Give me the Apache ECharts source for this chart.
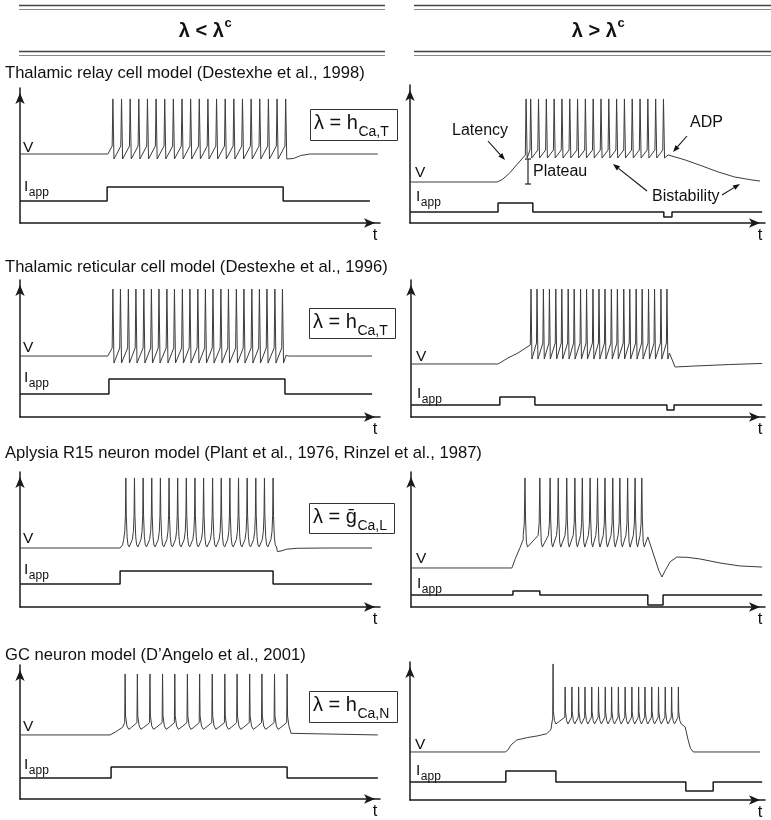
<!DOCTYPE html>
<html><head><meta charset="utf-8">
<script src="https://cdn.jsdelivr.net/npm/echarts@6/dist/echarts.min.js"></script>
<style>html,body{margin:0;padding:0;background:#fff}#c{width:771px;height:820px}</style>
</head><body><div id="c"></div>
<script>
// ================= DATA (arbitrary units: t 0-100, level 0-100) =================
const columnHeaders = ['λ < λ', 'λ > λ'];
const columnHeaderSup = ['c', 'c'];
const modelTitles = [
  'Thalamic relay cell model (Destexhe et al., 1998)',
  'Thalamic reticular cell model (Destexhe et al., 1996)',
  'Aplysia R15 neuron model (Plant et al., 1976, Rinzel et al., 1987)',
  'GC neuron model (D\u2019Angelo et al., 2001)'
];
const lambdaMain = ['λ = h', 'λ = h', 'λ = \u1E21', 'λ = h'];
const lambdaSub = ['Ca,T', 'Ca,T', 'Ca,L', 'Ca,N'];
const annotations = ['Latency', 'Plateau', 'ADP', 'Bistability'];

// --- Thalamic relay, lambda < lambda_c ---
const relayLoPre = [[0, 51.1], [24.4, 51.1]];
const relayLoSpikes = [25.8, 28.2, 30.6, 33.0, 35.4, 37.8, 40.2, 42.6, 45.0, 47.4, 49.8, 52.2, 54.6, 57.0, 59.4, 61.8, 64.2, 66.6, 69.0, 71.4, 73.8];
const relayLoPeak = 91.9;
const relayLoShape = { before: [[-0.2, 57]], after: [[0.3, 47.4]] };
const relayLoPost = [[76, 47.8], [78, 50], [80.5, 51.1], [99.4, 51.1]];
const relayLoIapp = [[0, 16.3], [24.2, 16.3], [24.2, 26.7], [73.1, 26.7], [73.1, 16.3], [97.2, 16.3]];

// --- Thalamic relay, lambda > lambda_c ---
const relayHiPre = [[0, 29.7], [24.5, 29.7], [26, 31.5], [28, 36], [30, 42], [32.5, 49.3]];
const relayHiSpikes = [32.7, 34.0, 36.2, 38.4, 40.6, 42.8, 45.0, 47.2, 49.4, 51.6, 53.8, 56.0, 58.2, 60.4, 62.6, 64.8, 67.0, 69.2, 71.4];
const relayHiPeak = 89.9;
const relayHiShape = { before: [[-0.2, 52.9]], after: [[0.3, 47.1]] };
const relayHiPost = [[72.7, 49.3], [77.5, 45.7], [82.3, 41.3], [86.8, 37], [91.5, 33.3], [96.3, 31.2], [98.6, 30.4]];
const relayHiIapp = [[0, 8], [24.8, 8], [24.8, 14.5], [34.6, 14.5], [34.6, 8], [71.5, 8], [71.5, 4.3], [73.8, 4.3], [73.8, 8], [99.2, 8]];

// --- Thalamic reticular, lambda < lambda_c ---
const reticLoPre = [[0, 44.5], [24.4, 44.5]];
const reticLoSpikes = [25.8, 27.9, 30.1, 32.2, 34.4, 36.5, 38.6, 40.8, 42.9, 45.1, 47.2, 49.4, 51.5, 53.6, 55.8, 57.9, 60.1, 62.2, 64.4, 66.5, 68.6, 70.8, 72.9];
const reticLoPeak = 93.4;
const reticLoShape = { before: [[-0.2, 50.4]], after: [[0.3, 39.4]] };
const reticLoPost = [[73.9, 45], [74.5, 44.5], [97.8, 44.5]];
const reticLoIapp = [[0, 16.8], [24.7, 16.8], [24.7, 27.7], [73.6, 27.7], [73.6, 16.8], [97.8, 16.8]];

// --- Thalamic reticular, lambda > lambda_c ---
const reticHiPre = [[0, 38.7], [24.6, 38.7], [27.4, 43.1], [30.2, 46.7], [33.7, 52.6]];
const reticHiSpikes = [33.9, 35.6, 37.4, 39.1, 40.9, 42.6, 44.4, 46.1, 47.9, 49.6, 51.4, 53.1, 54.8, 56.6, 58.3, 60.1, 61.8, 63.6, 65.3, 67.1, 68.8, 70.6, 72.3];
const reticHiPeak = 93.4;
const reticHiShape = { before: [[-0.15, 54]], after: [[0.25, 42.3]] };
const reticHiPost = [[73.0, 46.7], [74.6, 36.5], [80, 37.2], [90, 38.3], [99.2, 39.1]];
const reticHiIapp = [[0, 8.8], [25.1, 8.8], [25.1, 14.6], [35, 14.6], [35, 8.8], [72.3, 8.8], [72.3, 5.1], [74.3, 5.1], [74.3, 8.8], [99.2, 8.8]];

// --- Aplysia R15, lambda < lambda_c ---
const r15LoPre = [[0, 43.7], [27.8, 43.7], [28.5, 46]];
const r15LoSpikes = [29.4, 31.8, 34.2, 36.6, 39.0, 41.4, 43.8, 46.2, 48.6, 51.0, 53.5, 55.9, 58.3, 60.7, 63.1, 65.5, 67.9, 70.3];
const r15LoPeak = 95.6;
const r15LoShape = { before: [[-0.6, 50], [-0.3, 56], [-0.12, 68]], after: [[0.12, 68], [0.35, 52], [0.6, 46], [0.95, 44.5]] };
const r15LoPost = [[71.5, 41], [72.5, 41.5], [74, 42.8], [77, 43.5], [85, 43.7], [97.8, 43.7]];
const r15LoIapp = [[0, 17], [27.8, 17], [27.8, 26.7], [70.3, 26.7], [70.3, 17], [97.8, 17]];

// --- Aplysia R15, lambda > lambda_c ---
const r15HiPre = [[0, 28.9], [28.5, 28.9], [29.5, 36], [30.8, 44], [31.7, 50]];
const r15HiSpikes = [32.2, 36.4, 39.3, 41.6, 44.0, 46.3, 48.4, 50.6, 52.7, 54.8, 57.0, 59.0, 61.2, 63.3, 65.2];
const r15HiPeak = 95.6;
const r15HiShape = { before: [[-0.5, 53], [-0.2, 62]], after: [[0.15, 66], [0.4, 48], [0.7, 44.4]] };
const r15HiPost = [[66.9, 51.9], [70.0, 27], [70.9, 22.2], [71.8, 27], [73.2, 33.5], [75.1, 37], [78, 36.8], [81.6, 35.6], [87.3, 32.6], [92.9, 30.4], [99.2, 29.6]];
const r15HiIapp = [[0, 8.9], [28.8, 8.9], [28.8, 11.9], [36.4, 11.9], [36.4, 8.9], [66.9, 8.9], [66.9, 1.5], [71.2, 1.5], [71.2, 8.9], [99.2, 8.9]];

// --- GC neuron, lambda < lambda_c ---
const gcLoPre = [[0, 47.8], [25, 47.8], [26.5, 50], [28.5, 53.5]];
const gcLoSpikes = [29.2, 32.6, 36.1, 39.6, 43.0, 46.5, 49.9, 53.4, 56.9, 60.3, 63.8, 67.2, 70.7, 74.2];
const gcLoPeak = 93.3;
const gcLoShape = { before: [[-0.12, 57]], after: [[0.12, 62], [0.5, 54.5], [1.0, 52], [1.8, 53.5]] };
const gcLoPost = [[74.8, 55], [75.3, 49], [75.8, 47.8], [99.4, 47.8]];
const gcLoIapp = [[0, 15.7], [25.3, 15.7], [25.3, 23.9], [74.2, 23.9], [74.2, 15.7], [99.4, 15.7]];

// --- GC neuron, lambda > lambda_c ---
const gcHiPre = [[0, 34.8], [26.8, 34.8], [27.5, 36], [28.5, 40], [30.1, 43.5], [33, 45.2], [36, 46.5], [38.5, 48], [39.7, 51], [40.1, 58]];
const gcHiSpikes = [40.3, 43.7, 45.6, 47.5, 49.3, 51.2, 53.1, 55.0, 56.8, 58.7, 60.6, 62.5, 64.4, 66.2, 68.1, 70.0, 71.9, 73.7, 75.6];
const gcHiPeaks = [98.6, 81.9, 81.9, 81.9, 81.9, 81.9, 81.9, 81.9, 81.9, 81.9, 81.9, 81.9, 81.9, 81.9, 81.9, 81.9, 81.9, 81.9, 81.9];
const gcHiShape = { before: [[-0.1, 60]], after: [[0.1, 64], [0.4, 57.5], [0.8, 55.1], [1.2, 55.5]] };
const gcHiPost = [[76.6, 55.8], [77.5, 53], [78.3, 44], [79, 37.5], [79.8, 34.8], [98.6, 34.8]];
const gcHiIapp = [[0, 13], [27, 13], [27, 21], [41.1, 21], [41.1, 13], [77.7, 13], [77.7, 6.5], [85.4, 6.5], [85.4, 13], [99.2, 13]];

// ================= BUILD =================
function buildV(pre, spikes, peaks, shape, post) {
  const out = pre.slice();
  spikes.forEach((ts, i) => {
    const pk = Array.isArray(peaks) ? peaks[i] : peaks;
    shape.before.forEach(([dt, v]) => out.push([ts + dt, v]));
    out.push([ts, pk]);
    const last = i === spikes.length - 1;
    shape.after.forEach(([dt, v]) => { if (!last || ts + dt < post[0][0]) out.push([ts + dt, v]); });
  });
  return out.concat(post);
}

const traces = [
  { v: buildV(relayLoPre, relayLoSpikes, relayLoPeak, relayLoShape, relayLoPost), i: relayLoIapp },
  { v: buildV(relayHiPre, relayHiSpikes, relayHiPeak, relayHiShape, relayHiPost), i: relayHiIapp },
  { v: buildV(reticLoPre, reticLoSpikes, reticLoPeak, reticLoShape, reticLoPost), i: reticLoIapp },
  { v: buildV(reticHiPre, reticHiSpikes, reticHiPeak, reticHiShape, reticHiPost), i: reticHiIapp },
  { v: buildV(r15LoPre, r15LoSpikes, r15LoPeak, r15LoShape, r15LoPost), i: r15LoIapp },
  { v: buildV(r15HiPre, r15HiSpikes, r15HiPeak, r15HiShape, r15HiPost), i: r15HiIapp },
  { v: buildV(gcLoPre, gcLoSpikes, gcLoPeak, gcLoShape, gcLoPost), i: gcLoIapp },
  { v: buildV(gcHiPre, gcHiSpikes, gcHiPeaks, gcHiShape, gcHiPost), i: gcHiIapp }
];

// ================= LAYOUT (pixels) =================
const panels = [
  { l: 20, t: 88, r: 380, b: 223, vy: 148, iy: 187 },
  { l: 410, t: 85, r: 765, b: 223, vy: 173, iy: 197 },
  { l: 20, t: 280, r: 380, b: 417, vy: 348, iy: 378 },
  { l: 411, t: 280, r: 765, b: 417, vy: 357, iy: 394 },
  { l: 20, t: 472, r: 380, b: 607, vy: 539, iy: 570 },
  { l: 411, t: 472, r: 765, b: 607, vy: 559, iy: 584 },
  { l: 20, t: 665, r: 380, b: 799, vy: 727, iy: 765 },
  { l: 410, t: 662, r: 765, b: 800, vy: 745, iy: 771 }
];
const titleY = [73, 267, 453, 655];
const boxes = [
  { x: 310, y: 109, w: 87, h: 31 },
  { x: 309, y: 308, w: 86, h: 30 },
  { x: 309, y: 503, w: 85, h: 30 },
  { x: 309, y: 691, w: 88, h: 31 }
];

const FONT = '"Liberation Sans", Arial, Helvetica, sans-serif';
const mctx = document.createElement('canvas').getContext('2d');
function tw(str, size, weight) { mctx.font = (weight || 'normal') + ' ' + size + 'px ' + FONT; return mctx.measureText(str).width; }
function txt(x, y, str, size, align, weight) {
  return { type: 'text', x: x, y: y, silent: true,
    style: { text: str, fill: '#111', font: (weight || 'normal') + ' ' + size + 'px ' + FONT,
      align: align || 'left', verticalAlign: 'middle',
      textAlign: align || 'left', textVerticalAlign: 'middle' } };
}
function seg(x1, y1, x2, y2, color, w) {
  return { type: 'line', silent: true, shape: { x1, y1, x2, y2 }, style: { stroke: color || '#111', lineWidth: w || 1 } };
}
function arrow(x1, y1, x2, y2) {
  const dx = x2 - x1, dy = y2 - y1, L = Math.hypot(dx, dy), ux = dx / L, uy = dy / L;
  const hl = 7, hw = 2.6;
  const bx = x2 - ux * hl, by = y2 - uy * hl;
  return [
    seg(x1, y1, bx, by, '#111', 1.1),
    { type: 'polygon', silent: true, shape: { points: [[x2, y2], [bx - uy * hw, by + ux * hw], [bx + uy * hw, by - ux * hw]] }, style: { fill: '#111' } }
  ];
}

const graphics = [];
// Column headers
const hdr = [{ x1: 19, x2: 385, cx: 205 }, { x1: 414, x2: 771, cx: 598 }];
hdr.forEach((h, k) => {
  graphics.push(seg(h.x1, 5.5, h.x2, 5.5, '#444', 1.4));
  graphics.push(seg(h.x1, 9.5, h.x2, 9.5, '#888', 1.2));
  graphics.push(seg(h.x1, 51.5, h.x2, 51.5, '#444', 1.4));
  graphics.push(seg(h.x1, 55.5, h.x2, 55.5, '#888', 1.2));
  const mw = tw(columnHeaders[k], 20, 'bold'), sw = tw(columnHeaderSup[k], 13, 'bold');
  const x0 = h.cx - (mw + sw) / 2;
  graphics.push(txt(x0, 31, columnHeaders[k], 20, 'left', 'bold'));
  graphics.push(txt(x0 + mw + 0.5, 23, columnHeaderSup[k], 13, 'left', 'bold'));
});
// Titles
titleY.forEach((y, k) => graphics.push(txt(5, y, modelTitles[k], 16.6)));
// Lambda boxes
boxes.forEach((b, k) => {
  graphics.push({ type: 'rect', silent: true, shape: { x: b.x + 0.5, y: b.y + 0.5, width: b.w, height: b.h }, style: { fill: '#fff', stroke: '#333', lineWidth: 1 } });
  const mw = tw(lambdaMain[k], 20);
  graphics.push(txt(b.x + 4, b.y + 14, lambdaMain[k], 20));
  graphics.push(txt(b.x + 4 + mw + 0.5, b.y + 23.5, lambdaSub[k], 14));
});
// Panel labels
panels.forEach((p, k) => {
  const lx = p.l + (k % 2 === 0 ? 3 : 5);
  graphics.push(txt(lx, p.vy, 'V', 15.5));
  graphics.push(txt(lx + 1, p.iy, 'I', 15.5));
  graphics.push(txt(lx + 1 + tw('I', 15.5) + 0.5, p.iy + 6, 'app', 12));
  graphics.push(txt(p.r - 5, p.b + 12, 't', 16.5, 'center'));
});
// Annotations (relay, lambda > lambda_c)
graphics.push(txt(452, 131, annotations[0], 16));
graphics.push(...arrow(488, 141, 505, 160));
graphics.push(seg(528, 159, 528, 184, '#111', 1.1));
graphics.push(seg(525, 159, 531, 159, '#111', 1.1));
graphics.push(seg(525, 184, 531, 184, '#111', 1.1));
graphics.push(txt(533, 172, annotations[1], 16));
graphics.push(txt(690, 123, annotations[2], 16));
graphics.push(...arrow(687, 136, 673, 152));
graphics.push(txt(652, 197, annotations[3], 16));
graphics.push(...arrow(647, 191, 613, 164));
graphics.push(...arrow(722, 195, 740, 184));

// ================= CHART =================
const grids = [], xAxes = [], yAxes = [], series = [];
const axisLine = { show: true, onZero: false, symbol: ['none', 'arrow'], symbolSize: [7, 11], symbolOffset: [0, -5],
  lineStyle: { color: '#1a1a1a', width: 1.5 } };
panels.forEach((p, k) => {
  grids.push({ left: p.l, top: p.t, width: p.r - p.l, height: p.b - p.t, containLabel: false });
  xAxes.push({ type: 'value', gridIndex: k, min: 0, max: 100, position: 'bottom', axisLine,
    axisTick: { show: false }, axisLabel: { show: false }, splitLine: { show: false } });
  yAxes.push({ type: 'value', gridIndex: k, min: 0, max: 100, position: 'left', axisLine,
    axisTick: { show: false }, axisLabel: { show: false }, splitLine: { show: false } });
  series.push({ type: 'line', xAxisIndex: k, yAxisIndex: k, data: traces[k].v, showSymbol: false, symbol: 'none',
    lineStyle: { color: '#3c3c3c', width: 1 }, silent: true, z: 3 });
  series.push({ type: 'line', xAxisIndex: k, yAxisIndex: k, data: traces[k].i, showSymbol: false, symbol: 'none',
    lineStyle: { color: '#1a1a1a', width: 1.5 }, silent: true, z: 3 });
});

const chart = echarts.init(document.getElementById('c'), null, { renderer: 'canvas', width: 771, height: 820 });
chart.setOption({
  backgroundColor: '#fff',
  animation: false,
  grid: grids, xAxis: xAxes, yAxis: yAxes, series: series,
  graphic: { elements: graphics }
});
</script></body></html>
